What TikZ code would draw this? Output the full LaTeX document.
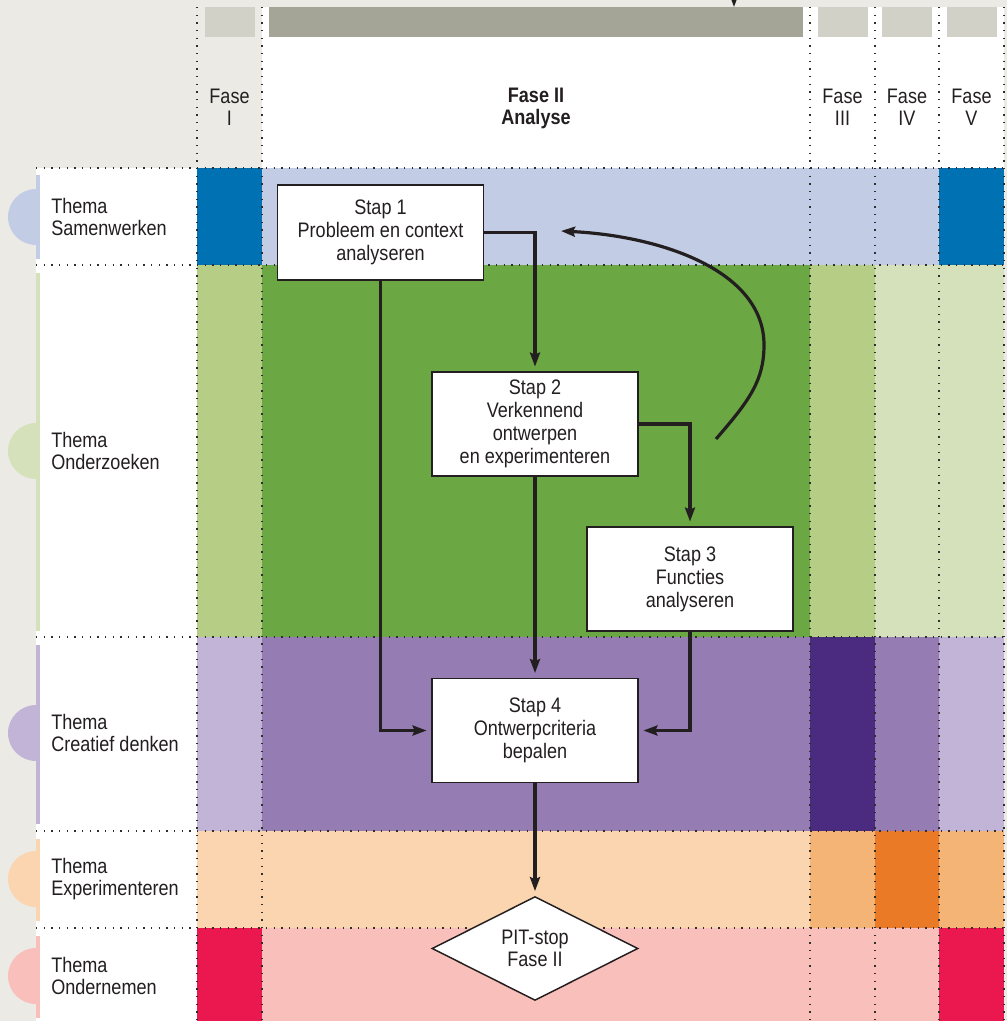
\documentclass[tikz,border=0pt]{standalone}
\usepackage{fontspec}
\setmainfont{Liberation Sans}[FakeStretch=0.86]
\usetikzlibrary{arrows.meta,shapes.geometric}
\definecolor{bgray}{HTML}{EBEAE5}
\definecolor{hlight}{HTML}{D1D1C8}
\definecolor{hdark}{HTML}{A4A596}
\definecolor{blueL}{HTML}{C2CDE5}
\definecolor{blueD}{HTML}{0072B3}
\definecolor{greenM}{HTML}{B5CD85}
\definecolor{greenD}{HTML}{6BA843}
\definecolor{greenL}{HTML}{D5E1BB}
\definecolor{purL}{HTML}{C2B4D6}
\definecolor{purM}{HTML}{957CB3}
\definecolor{purD}{HTML}{4B2B80}
\definecolor{orL}{HTML}{FBD5B0}
\definecolor{orM}{HTML}{F3B476}
\definecolor{orD}{HTML}{EA7A25}
\definecolor{pinkL}{HTML}{F9BFBA}
\definecolor{pinkD}{HTML}{EB184F}
\definecolor{ink}{HTML}{231F20}
\definecolor{dotc}{HTML}{2E2E2E}
\begin{document}
\begin{tikzpicture}[x=0.75pt,y=-0.75pt,
  dotline/.style={dotc,line width=0.95pt,dash pattern=on 0.95pt off 4.8pt},
  stepbox/.style={draw=ink,line width=1.1pt,fill=white,rectangle,inner sep=0pt,
     minimum width=154.5pt,minimum height=78pt,align=center,text=ink,
     font=\fontsize{15.75}{17.25}\selectfont},
  pitbox/.style={draw=ink,line width=1.1pt,fill=white,diamond,inner sep=0pt,
     minimum width=154.5pt,minimum height=77pt,align=center,text=ink,
     font=\fontsize{15.75}{16.5}\selectfont},
  themetext/.style={anchor=west,align=left,text=ink,inner sep=0pt,
     font=\fontsize{15.75}{16.1}\selectfont},
  phasetext/.style={align=center,text=ink,inner sep=0pt,
     font=\fontsize{15.75}{16.5}\selectfont},
  arr/.style={draw=ink,line width=2.4pt,
     -{Stealth[length=10.5pt,width=7.5pt,inset=1.5pt]},shorten >=3.5pt},
  curvearr/.style={draw=ink,line width=2.4pt,
     -{Stealth[length=10.5pt,width=7.5pt,inset=1.5pt]}}
]
\useasboundingbox (0,0) rectangle (1007,1021);
\clip (0,0) rectangle (1007,1021);
% background
\fill[bgray] (0,0) rectangle (1007,1021);
% semicircles
\fill[blueL]  (36,217) circle[radius=28];
\fill[greenL] (36,451) circle[radius=28];
\fill[purL]   (36,733) circle[radius=28];
\fill[orL]    (36,879) circle[radius=28];
\fill[pinkL]  (36,976) circle[radius=28];
% white areas
\fill[white] (36,168) rectangle (197,1021);
\fill[white] (262,7) rectangle (1004,168);
% side bars
\fill[blueL]  (36,175) rectangle (40,259);
\fill[greenL] (36,273) rectangle (40,631);
\fill[purL]   (36,645) rectangle (40,824);
\fill[orL]    (36,839) rectangle (40,921);
\fill[pinkL]  (36,936) rectangle (40,1018);
% header bars
\fill[hlight] (205,7) rectangle (255,37);
\fill[hdark]  (269,7) rectangle (803,37);
\fill[hlight] (818,7) rectangle (868,37);
\fill[hlight] (882,7) rectangle (932,37);
\fill[hlight] (947,7) rectangle (997,37);
% cells
\foreach \ya/\yb/\cA/\cB/\cC/\cD/\cE in {
  168/265/blueD/blueL/blueL/blueL/blueD,
  265/637/greenM/greenD/greenM/greenL/greenL,
  637/831/purL/purM/purD/purM/purL,
  831/928/orL/orL/orM/orD/orM,
  928/1021/pinkD/pinkL/pinkL/pinkL/pinkD}{
  \fill[\cA] (197,\ya) rectangle (262,\yb);
  \fill[\cB] (262,\ya) rectangle (810,\yb);
  \fill[\cC] (810,\ya) rectangle (875,\yb);
  \fill[\cD] (875,\ya) rectangle (939,\yb);
  \fill[\cE] (939,\ya) rectangle (1004,\yb);
}
% dotted grid
\foreach \yy in {168,265,637,831,928}{
  \draw[dotline] (36,\yy) -- (1004,\yy);
}
\foreach \xx in {197,262,810,875,939,1004}{
  \draw[dotline] (\xx,7) -- (\xx,1021);
}
% header texts
\node[phasetext] (f1) at (229.5,107) {Fase\\I};
\node[phasetext,font=\fontsize{15.75}{16.5}\selectfont\bfseries] (f2) at (536,108.5) {Fase II\\Analyse};
\node[phasetext] (f3) at (842.5,107) {Fase\\III};
\node[phasetext] (f4) at (907,107) {Fase\\IV};
\node[phasetext] (f5) at (971.5,107) {Fase\\V};
% theme texts
\node[themetext] (t1) at (51,217) {Thema\\Samenwerken};
\node[themetext] (t2) at (51,451) {Thema\\Onderzoeken};
\node[themetext] (t3) at (51,733) {Thema\\Creatief denken};
\node[themetext] (t4) at (51,879) {Thema\\Experimenteren};
\node[themetext] (t5) at (51,976) {Thema\\Ondernemen};
% steps
\node[stepbox,minimum height=71.25pt] (s1) at (380.5,232.5) {Stap 1\\Probleem en context\\analyseren};
\node[stepbox] (s2) at (535,424) {Stap 2\\Verkennend\\ontwerpen\\en experimenteren};
\node[stepbox] (s3) at (690,579) {Stap 3\\Functies\\analyseren};
\node[stepbox] (s4) at (535,730.5) {Stap 4\\Ontwerpcriteria\\bepalen};
\node[pitbox] (pit) at (535,948.5) {PIT-stop\\Fase II};
% connectors
\draw[arr] (s1.east) -| (s2.north);
\draw[arr] (s1.south) |- (s4.west);
\draw[arr] (s2.south) -- (s4.north);
\draw[arr] (s2.east) -| (s3.north);
\draw[arr] (s3.south) |- (s4.east);
\draw[arr] (s4.south) -- (pit.north);
% loop-back curve
\coordinate (cs) at (716,439);
\coordinate (cm) at (764,345);
\coordinate (ce) at (561,231);
\draw[curvearr] (cs) .. controls (750,400) and (764,380) .. (cm)
                     .. controls (764,270) and (660,236) .. (ce);
% incoming arrow at top
\coordinate (ta) at (734,-8);
\coordinate (tb) at (734,7);
\draw[curvearr] (ta) -- (tb);
\end{tikzpicture}
\end{document}
